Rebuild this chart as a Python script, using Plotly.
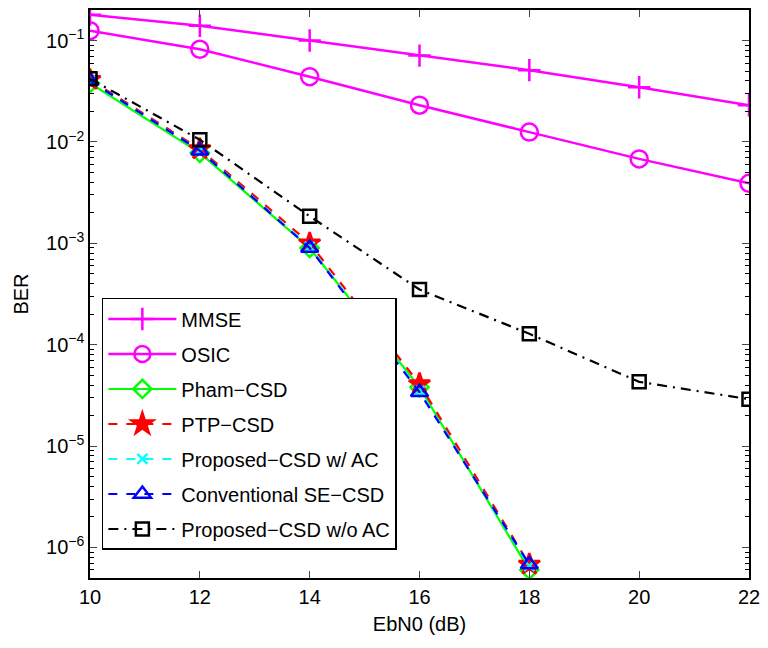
import plotly.graph_objects as go

ebn0 = [10, 12, 14, 16, 18, 20, 22]
ebn0_short = [10, 12, 14, 16, 18]

ber_mmse = [0.18, 0.14, 0.10, 0.071, 0.051, 0.0346, 0.023]
ber_osic = [0.125, 0.082, 0.044, 0.023, 0.0125, 0.0068, 0.0039]
ber_pham = [0.038, 0.0078, 9.0e-4, 3.8e-5, 6.0e-7]
ber_ptp = [0.041, 0.0085, 1.0e-3, 4.1e-5, 6.8e-7]
ber_prop_ac = [0.040, 0.0082, 9.2e-4, 3.5e-5, 6.6e-7]
ber_conv = [0.040, 0.0082, 9.0e-4, 3.4e-5, 6.8e-7]
ber_prop_noac = [0.042, 0.0105, 1.85e-3, 3.5e-4, 1.28e-4, 4.3e-5, 2.9e-5]

x_ticks = [10, 12, 14, 16, 18, 20, 22]
y_ticks = [1e-6, 1e-5, 1e-4, 1e-3, 1e-2, 1e-1]
y_tick_text = ["10<sup>\u22126</sup>", "10<sup>\u22125</sup>", "10<sup>\u22124</sup>",
               "10<sup>\u22123</sup>", "10<sup>\u22122</sup>", "10<sup>\u22121</sup>"]

FONT = "Liberation Sans, Arial, Helvetica, sans-serif"

series = [
    ("MMSE", ebn0, ber_mmse, "#ff00ff", "solid", "cross-thin-open", 16, 2.5),
    ("OSIC", ebn0, ber_osic, "#ff00ff", "solid", "circle-open", 17, 2.5),
    ("Pham\u2212CSD", ebn0_short, ber_pham, "#00ff00", "solid", "diamond-open", 14, 2.2),
    ("PTP\u2212CSD", ebn0_short, ber_ptp, "#ff0000", "dash", "star", 16, 2.2),
    ("Proposed\u2212CSD w/ AC", ebn0_short, ber_prop_ac, "#00ffff", "dash", "x-thin-open", 10, 2.2),
    ("Conventional SE\u2212CSD", ebn0_short, ber_conv, "#0000ff", "dash", "triangle-up-open", 15, 2.2),
    ("Proposed\u2212CSD w/o AC", ebn0, ber_prop_noac, "#000000", "10px,6px,2px,6px", "square-open", 13, 2.2),
]

fig = go.Figure()
for i, (name, xs, ys, color, dash, sym, size, lw) in enumerate(series):
    fig.add_trace(go.Scatter(
        x=xs, y=ys, name=name, mode="lines+markers",
        legendgroup=f"g{i}",
        line=dict(color=color, width=lw, dash=dash),
        marker=dict(symbol=sym, size=size, color=color,
                    line=dict(color=color, width=2.5)),
    ))

# page body adds an 8px offset; figure is sized so the plot lands where the reference has it
fig.update_layout(
    width=752, height=632,
    margin=dict(l=82, r=11, t=2, b=62, autoexpand=False),
    paper_bgcolor="white", plot_bgcolor="white",
    font=dict(family=FONT, size=20, color="black"),
    showlegend=True,
    legend=dict(
        x=0.018, y=0.493, xanchor="left", yanchor="top",
        bgcolor="white", bordercolor="black", borderwidth=1.5,
        font=dict(family=FONT, size=20, color="black"),
        traceorder="grouped", tracegroupgap=6, itemwidth=68,
    ),
    xaxis=dict(
        range=[10, 22], tickvals=x_ticks, ticks="inside", ticklen=7,
        showline=True, linecolor="black", linewidth=1.5, mirror="ticks",
        showgrid=False, zeroline=False, automargin=False,
        ticklabeloverflow="allow",
        title=dict(text="EbN0 (dB)", font=dict(size=20), standoff=10),
        tickfont=dict(size=20),
    ),
    yaxis=dict(
        type="log", range=[-6.301, -0.699], tickvals=y_ticks, ticktext=y_tick_text,
        ticks="inside", ticklen=7,
        showline=True, linecolor="black", linewidth=1.5, mirror="ticks",
        showgrid=False, zeroline=False, automargin=False,
        minor=dict(ticks="inside", ticklen=4, dtick="D1", showgrid=False, tickcolor="black"),
        title=dict(text="BER", font=dict(size=20), standoff=12),
        tickfont=dict(size=20),
    ),
)

fig.write_html("out.html")
